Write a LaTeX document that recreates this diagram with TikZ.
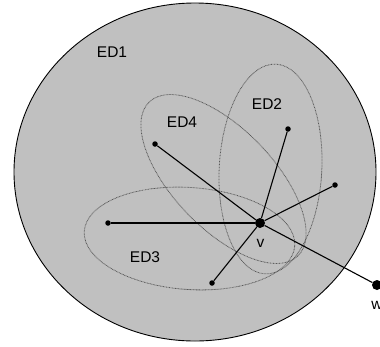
\documentclass[tikz,border=0pt]{standalone}
\usepackage{fontspec}
\setmainfont{Liberation Sans}
\begin{document}
\begin{tikzpicture}[x=1pt,y=-1pt,
  bigdot/.style={circle,fill=black,inner sep=0pt,minimum size=10pt},
  smalldot/.style={circle,fill=black,inner sep=0pt,minimum size=5.5pt},
  edge/.style={draw=black,line width=1.1pt},
  region/.style={draw=gray!70!black,line width=0.8pt,dash pattern=on 0.8pt off 0.7pt},
  lbl/.style={inner sep=0pt,font=\fontsize{15.5}{18}\selectfont}]
\useasboundingbox (0,0) rectangle (380,346);
% ED1
\draw[fill={rgb,255:red,192;green,192;blue,192},line width=0.9pt] (195,172) ellipse [x radius=181pt, y radius=169pt];
% inner dotted regions
\coordinate (c3) at (189.5,238.5);
\coordinate (c2) at (270.5,169);
\coordinate (c4) at (223.5,179);
\draw[region,rotate around={-4:(c3)}] (c3) ellipse [x radius=105.5pt, y radius=51pt];
\draw[region,rotate around={-3:(c2)}] (c2) ellipse [x radius=51.3pt, y radius=105pt];
\draw[region,rotate around={-46:(c4)}] (c4) ellipse [x radius=107pt, y radius=50pt];
% vertices
\node[bigdot] (v) at (260,223) {};
\node[bigdot] (w) at (377,285) {};
\node[smalldot] (p4) at (155,144) {};
\node[smalldot] (p2) at (288,129) {};
\node[smalldot] (pr) at (335,185) {};
\node[smalldot] (pl) at (108,223) {};
\node[smalldot] (pb) at (212,283) {};
% edges
\draw[edge] (v) -- (p4);
\draw[edge] (v) -- (p2);
\draw[edge] (v) -- (pr);
\draw[edge] (v) -- (pl);
\draw[edge] (v) -- (pb);
\draw[edge] (v) -- (w);
% labels
\node[lbl] (l1) at (112,52) {ED1};
\node[lbl] (l2) at (267,104) {ED2};
\node[lbl] (l4) at (182,122) {ED4};
\node[lbl] (l3) at (145,257) {ED3};
\node[lbl] (lv) at (260.5,243) {v};
\node[lbl] (lw) at (377,305) {w};
\end{tikzpicture}
\end{document}
